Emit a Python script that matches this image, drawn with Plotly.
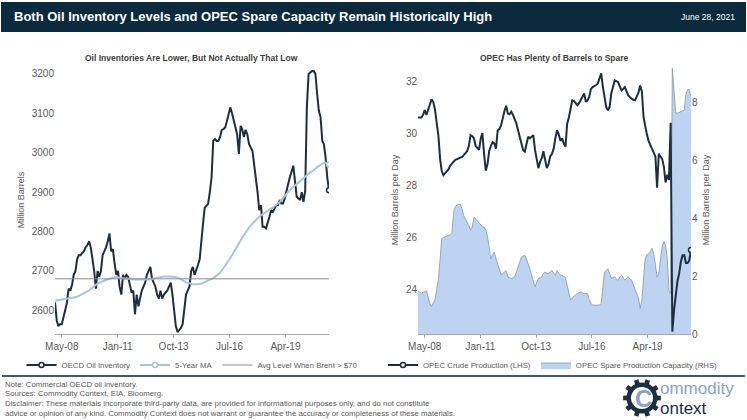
import math
import pandas as pd
import plotly.graph_objects as go

# ---------------- data ----------------
dates = pd.date_range("2008-01-01", periods=162, freq="MS")

oecd_inventory = [
    2620, 2575, 2560, 2565, 2565, 2580, 2600, 2620, 2655, 2650, 2665, 2690,
    2700, 2730, 2740, 2740, 2745, 2750, 2760, 2765, 2775, 2760, 2730, 2700,
    2655, 2700, 2685, 2700, 2740, 2750, 2760, 2775, 2795, 2750, 2755, 2720,
    2690, 2700, 2660, 2640, 2690, 2680, 2690, 2685, 2660, 2645, 2650, 2590,
    2640, 2610, 2630, 2650, 2660, 2670, 2690, 2700, 2710, 2680, 2670, 2660,
    2640, 2630, 2650, 2630, 2640, 2645, 2650, 2660, 2670, 2640, 2600, 2560,
    2545, 2550, 2555, 2565, 2600, 2640, 2650, 2660, 2700, 2710, 2690, 2700,
    2715, 2730, 2780, 2820, 2860, 2865, 2870, 2900, 2937, 3030, 3035, 3030,
    3030, 3040, 3058, 3060, 3064, 3080, 3100, 3115, 3100, 3080, 3064, 3047,
    2997, 3068, 3060, 3040, 3058, 3047, 3022, 3013, 3005, 2970, 2937, 2900,
    2854, 2867, 2812, 2812, 2808, 2820, 2837, 2854, 2850, 2858, 2867, 2867,
    2880, 2871, 2871, 2884, 2905, 2920, 2937, 2950, 2967, 2929, 2888, 2884,
    2880, 2900, 2875, 2903, 3115, 3200, 3204, 3207, 3207, 3200, 3149, 3107,
    3090, 3030, 3022, 2988, 2937, 2905,
]

five_year_ma = [
    2624, 2625, 2626, 2627, 2628, 2628, 2629, 2629, 2630, 2631, 2632, 2632,
    2633, 2635, 2637, 2639, 2641, 2643, 2645, 2648, 2651, 2655, 2658, 2662,
    2665, 2668, 2670, 2672, 2674, 2676, 2677, 2679, 2680, 2682, 2683, 2684,
    2684, 2684, 2683, 2682, 2681, 2680, 2680, 2680, 2679, 2679, 2678, 2678,
    2678, 2677, 2677, 2677, 2677, 2677, 2677, 2678, 2679, 2680, 2681, 2682,
    2682, 2683, 2684, 2685, 2686, 2686, 2686, 2686, 2686, 2685, 2685, 2684,
    2683, 2681, 2679, 2676, 2673, 2671, 2670, 2668, 2667, 2666, 2666, 2666,
    2666, 2667, 2668, 2670, 2672, 2673, 2674, 2676, 2679, 2682, 2685, 2688,
    2690, 2695, 2701, 2707, 2713, 2719, 2725, 2732, 2740, 2748, 2755, 2763,
    2770, 2777, 2784, 2791, 2798, 2804, 2810, 2815, 2820, 2825, 2830, 2834,
    2838, 2841, 2844, 2847, 2850, 2853, 2855, 2858, 2861, 2864, 2868, 2872,
    2875, 2880, 2885, 2890, 2895, 2900, 2905, 2909, 2913, 2917, 2921, 2925,
    2929, 2932, 2936, 2939, 2943, 2947, 2950, 2953, 2957, 2960, 2963, 2966,
    2970, 2972, 2974, 2975, 2973, 2970,
]

avg_level_brent_70 = 2680

opec_crude = [
    30.6, 30.6, 30.6, 30.7, 30.88, 30.7, 30.94, 31.1, 31.3, 31.2, 30.9, 30.4,
    29.9, 29.0, 28.55, 28.38, 28.45, 28.55, 28.6, 28.75, 28.84, 28.9, 28.97, 29.0,
    29.03, 29.05, 29.08, 29.15, 29.22, 29.3, 29.5, 29.92, 29.88, 29.8, 29.5, 29.4,
    29.35, 29.8, 30.0, 29.2, 28.55, 28.8, 29.3, 29.5, 29.65, 29.6, 29.4, 30.1,
    30.15, 30.3, 30.6, 30.85, 31.05, 30.75, 30.72, 30.82, 30.7, 30.55, 30.37, 30.11,
    29.85, 29.48, 29.35, 29.29, 29.6, 29.86, 29.8, 29.85, 29.92, 29.35, 28.9, 28.65,
    28.9, 29.03, 29.3, 29.0, 28.65, 28.8, 29.1, 29.2, 29.4, 29.8, 30.11, 29.95,
    29.7, 29.8, 29.6, 29.48, 30.35, 30.6, 31.0, 31.26, 31.23, 31.15, 31.07, 31.15,
    31.3, 31.4, 31.52, 31.2, 31.26, 31.4, 31.7, 31.77, 31.8, 31.85, 31.9, 32.1,
    32.3, 31.77, 31.32, 31.0, 30.88, 31.0, 31.52, 31.8, 32.03, 32.0, 31.96, 31.8,
    31.64, 31.7, 31.77, 31.6, 31.45, 31.38, 31.32, 31.28, 31.26, 31.4, 31.55, 31.83,
    31.6, 30.6, 30.2, 29.95, 29.7, 29.55, 29.4, 29.25, 29.1, 27.9, 29.2, 29.1,
    29.0, 28.7, 28.1, 28.4, 28.2, 30.4, 22.36, 23.2, 23.9, 24.3, 24.6, 25.05,
    25.3, 25.3, 25.0, 25.0, 25.1, 25.5,
]

opec_spare = [
    1.5, 1.45, 1.4, 1.45, 1.46, 1.5, 1.23, 1.05, 0.95, 1.05, 1.2, 1.55,
    1.9, 2.6, 3.3, 3.34, 3.36, 3.39, 3.41, 3.44, 3.5, 4.2, 4.42, 4.47,
    4.5, 4.48, 4.35, 4.1, 4.0, 3.85, 3.75, 3.6, 3.7, 4.05, 3.98, 3.9,
    3.85, 3.78, 3.72, 3.7, 3.6, 3.4, 3.0, 2.6, 2.75, 2.84, 2.6, 2.45,
    2.25, 2.05, 2.1, 2.15, 2.2, 1.98, 1.95, 1.92, 1.95, 1.98, 2.15, 2.32,
    2.5, 2.67, 2.7, 2.72, 2.6, 2.45, 2.25, 2.05, 1.85, 1.63, 1.8, 1.92,
    1.95, 1.98, 2.1, 2.15, 2.1, 2.09, 2.15, 2.2, 2.1, 2.03, 2.2, 2.1,
    2.05, 2.03, 2.0, 1.95, 1.7, 1.45, 1.17, 1.25, 1.32, 1.36, 1.4, 1.43,
    1.46, 1.43, 1.4, 1.4, 1.4, 1.2, 1.06, 1.0, 1.0, 1.0, 1.0, 1.0,
    1.06, 1.8, 2.15, 2.2, 2.26, 2.1, 1.92, 1.95, 1.98, 1.9, 1.86, 1.98,
    2.03, 1.95, 1.86, 1.93, 1.98, 1.92, 1.86, 1.7, 1.52, 1.4, 1.25, 0.89,
    1.17, 1.9, 2.6, 2.75, 2.78, 2.85, 2.97, 2.8, 2.3, 1.98, 2.1, 2.5,
    3.05, 3.2, 3.1, 2.6, 1.5, 1.4, 9.2, 8.4, 7.65, 7.65, 7.68, 7.7,
    7.72, 7.75, 8.3, 8.47, 8.47, 8.2,
]

tick_dates = ["2008-05-01", "2011-01-26", "2013-10-22", "2016-07-18", "2019-04-14"]
tick_labels = ["May-08", "Jan-11", "Oct-13", "Jul-16", "Apr-19"]

inv_ticks = [2600, 2700, 2800, 2900, 3000, 3100, 3200]
crude_ticks = [24, 26, 28, 30, 32]
spare_ticks = [0, 2, 4, 6, 8]

note_lines = [
    "Note: Commercial OECD oil inventory.",
    "Sources: Commodity Context, EIA, Bloomerg.",
    "Disclaimer: These materials incorporate third-party data, are provided for informational purposes only, and do not constitute",
    "advice or opinion of any kind. Commodity Context does not warrant or guarantee the accuracy or completeness of these materials.",
]

# ---------------- styling ----------------
W, H = 747, 420
FONT = "Liberation Sans, Arial, sans-serif"
DARK = "#1d2f3f"
MA_COL = "#a9c3e0"
AVG_COL = "#8c8c8c"
FILL = "#bdd3f1"
FILL_EDGE = "#8497ab"
GREY_TXT = "#595959"
NAVY = "#0c2a3d"
LOGO_BLUE = "#8aa4c4"


def px(x):
    return x / W


def py(y):
    return 1 - y / H


fig = go.Figure()

# ---- left chart ----
fig.add_trace(go.Scatter(x=dates, y=oecd_inventory, mode="lines",
                         line=dict(color=DARK, width=2), showlegend=False,
                         xaxis="x", yaxis="y", hoverinfo="skip"))
fig.add_trace(go.Scatter(x=dates[-1:], y=oecd_inventory[-1:], mode="lines+markers",
                         name="OECD Oil Inventory",
                         line=dict(color=DARK, width=2),
                         marker=dict(symbol="circle", size=5, color="white",
                                     line=dict(color=DARK, width=1.5)),
                         xaxis="x", yaxis="y", legend="legend"))
fig.add_trace(go.Scatter(x=dates, y=five_year_ma, mode="lines",
                         line=dict(color=MA_COL, width=2), showlegend=False,
                         xaxis="x", yaxis="y", hoverinfo="skip"))
fig.add_trace(go.Scatter(x=dates[-1:], y=five_year_ma[-1:], mode="lines+markers",
                         name="5-Year MA",
                         line=dict(color=MA_COL, width=2),
                         marker=dict(symbol="circle", size=5, color="white",
                                     line=dict(color=MA_COL, width=1.5)),
                         xaxis="x", yaxis="y", legend="legend"))
fig.add_trace(go.Scatter(x=dates, y=[avg_level_brent_70] * len(dates), mode="lines",
                         name="Avg Level When Brent &gt; $70",
                         line=dict(color=AVG_COL, width=1),
                         xaxis="x", yaxis="y", legend="legend"))

# ---- right chart ----
fig.add_trace(go.Scatter(x=dates, y=opec_crude, mode="lines",
                         line=dict(color=DARK, width=2), showlegend=False,
                         xaxis="x2", yaxis="y3", hoverinfo="skip"))
fig.add_trace(go.Scatter(x=dates[-1:], y=opec_crude[-1:], mode="lines+markers",
                         name="OPEC Crude Production (LHS)",
                         line=dict(color=DARK, width=2),
                         marker=dict(symbol="circle", size=5, color="white",
                                     line=dict(color=DARK, width=1.5)),
                         xaxis="x2", yaxis="y3", legend="legend2"))
fig.add_trace(go.Scatter(x=dates, y=opec_spare, mode="lines", fill="tozeroy",
                         name="OPEC Spare Production Capacity (RHS)",
                         fillcolor=FILL, line=dict(color=FILL_EDGE, width=0.8),
                         xaxis="x2", yaxis="y2", legend="legend2"))

tickfont = dict(family=FONT, size=10, color=GREY_TXT)
titlefont = dict(family=FONT, size=9, color=GREY_TXT)
xcommon = dict(type="date", range=[dates[0], dates[-1]],
               tickvals=tick_dates, ticktext=tick_labels,
               showline=True, linecolor="#a6a6a6", linewidth=1,
               ticks="outside", ticklen=3, tickcolor="#a6a6a6",
               showgrid=False, zeroline=False, tickfont=tickfont,
               automargin=False)
ycommon = dict(showgrid=False, zeroline=False, showline=False,
               tickfont=tickfont, automargin=False)

legend_common = dict(orientation="h", xanchor="center", yanchor="middle",
                     y=py(365), font=dict(family=FONT, size=7.8, color=GREY_TXT),
                     bgcolor="rgba(0,0,0,0)", itemwidth=30, tracegroupgap=0,
                     itemclick=False, itemdoubleclick=False)

fig.update_layout(
    width=W, height=H,
    margin=dict(l=0, r=0, t=0, b=0, autoexpand=False),
    paper_bgcolor="white", plot_bgcolor="white",
    font=dict(family=FONT, color=GREY_TXT),
    xaxis=dict(domain=[px(55), px(329)], anchor="y", **xcommon),
    yaxis=dict(domain=[py(334), py(66)], anchor="x", range=[2540, 3220],
               tickvals=inv_ticks, **ycommon,
               title=dict(text="Million Barrels", font=titlefont, standoff=5)),
    xaxis2=dict(domain=[px(418), px(691)], anchor="y2", **xcommon),
    yaxis2=dict(domain=[py(334), py(66)], anchor="x2", side="right",
                range=[0, 9.28], tickvals=spare_ticks, **ycommon,
                title=dict(text="Million Barrels per Day", font=titlefont, standoff=5)),
    yaxis3=dict(overlaying="y2", anchor="x2", side="left",
                range=[22.27, 32.58], tickvals=crude_ticks, **ycommon,
                title=dict(text="Million Barrels per Day", font=titlefont, standoff=5)),
    legend=dict(x=px(192), **legend_common),
    legend2=dict(x=px(553), **legend_common),
)

# header bar and divider
fig.add_shape(type="rect", xref="paper", yref="paper",
              x0=px(1), x1=px(746), y0=py(32), y1=py(2),
              fillcolor=NAVY, line=dict(width=0), layer="below")
fig.add_shape(type="line", xref="paper", yref="paper",
              x0=px(2), x1=px(745), y0=py(376), y1=py(376),
              line=dict(color="#45586b", width=2))

# logo gear drawn as a path (teeth polygon) with white centre
cx, cy = 642.0, 398.0
n_teeth = 10
pts = []
for k in range(n_teeth):
    base = 2 * math.pi * k / n_teeth
    for da, r in ((-0.17, 14.5), (-0.12, 19.0), (0.12, 19.0), (0.17, 14.5)):
        a = base + da
        pts.append((cx + r * math.cos(a), cy + r * math.sin(a)))
path = "M " + " L ".join(f"{px(x):.5f},{py(y):.5f}" for x, y in pts) + " Z"
fig.add_shape(type="path", xref="paper", yref="paper", path=path,
              fillcolor=DARK, line=dict(width=0))
fig.add_shape(type="circle", xref="paper", yref="paper",
              x0=px(cx - 15.5), x1=px(cx + 15.5), y0=py(cy + 15.5), y1=py(cy - 15.5),
              fillcolor=DARK, line=dict(width=0))
fig.add_shape(type="circle", xref="paper", yref="paper",
              x0=px(cx - 11), x1=px(cx + 11), y0=py(cy + 11), y1=py(cy - 11),
              fillcolor="white", line=dict(width=0))

ann = []
ann.append(dict(text="<b>Both Oil Inventory Levels and OPEC Spare Capacity Remain Historically High</b>",
                x=px(12), y=py(17), xanchor="left", yanchor="middle",
                font=dict(family=FONT, size=13, color="white")))
ann.append(dict(text="June 28, 2021", x=px(737), y=py(17), xanchor="right", yanchor="middle",
                font=dict(family=FONT, size=8.5, color="white")))
ann.append(dict(text="<b>Oil Inventories Are Lower, But Not Actually That Low</b>",
                x=px(192), y=py(58), xanchor="center", yanchor="middle",
                font=dict(family=FONT, size=8.5, color="#404040")))
ann.append(dict(text="<b>OPEC Has Plenty of Barrels to Spare</b>",
                x=px(554), y=py(58), xanchor="center", yanchor="middle",
                font=dict(family=FONT, size=8.5, color="#404040")))
for i, line in enumerate(note_lines):
    ann.append(dict(text=line, x=px(3), y=py(384 + i * 9.8), xanchor="left", yanchor="middle",
                    font=dict(family=FONT, size=7.8, color=GREY_TXT)))
# logo text
ann.append(dict(text="<b>C</b>", x=px(cx + 1), y=py(cy), xanchor="center", yanchor="middle",
                font=dict(family=FONT, size=24, color=LOGO_BLUE)))
ann.append(dict(text="ommodity", x=px(658), y=py(388), xanchor="left", yanchor="middle",
                font=dict(family=FONT, size=17, color=LOGO_BLUE)))
ann.append(dict(text="ontext", x=px(658), y=py(408), xanchor="left", yanchor="middle",
                font=dict(family=FONT, size=17, color=DARK)))

for a in ann:
    a.update(xref="paper", yref="paper", showarrow=False)
    fig.add_annotation(**a)

fig.write_html("out.html")
